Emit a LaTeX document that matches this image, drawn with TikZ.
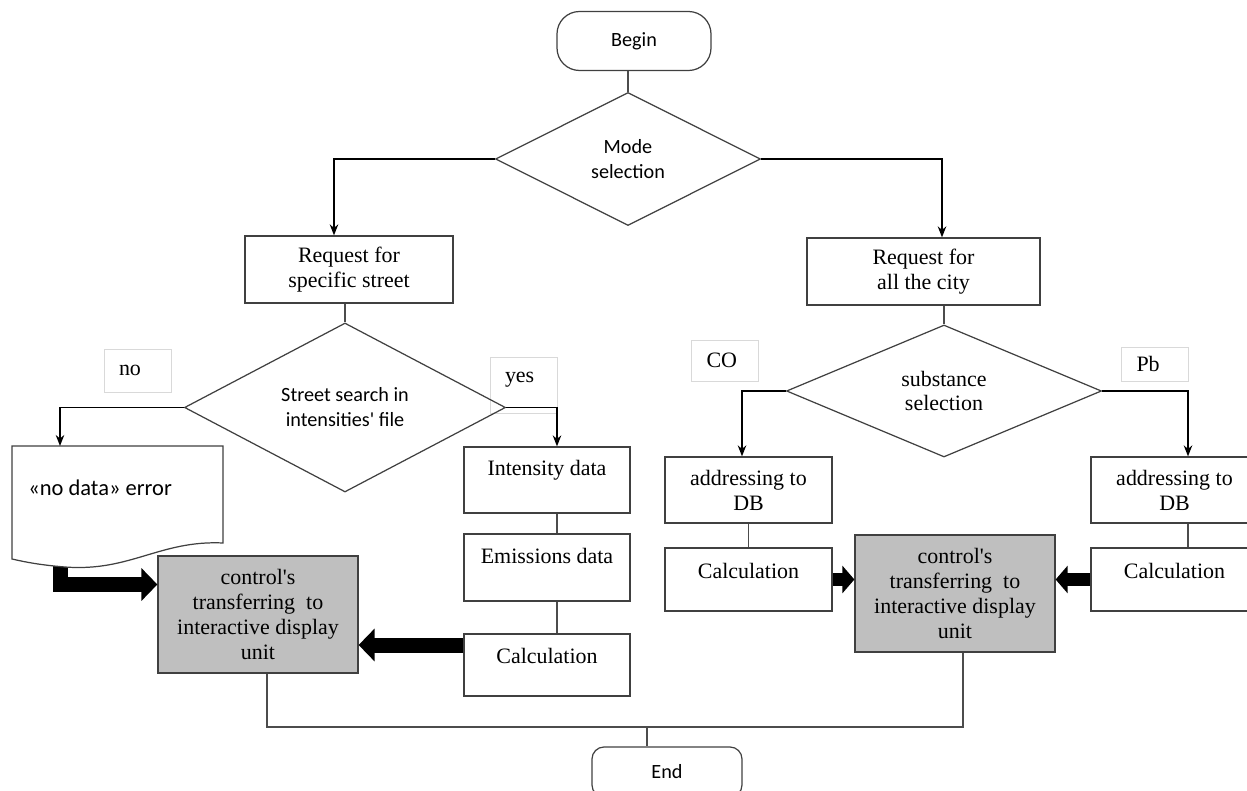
\documentclass[tikz,border=0pt]{standalone}
\usepackage{fontspec}
\setmainfont{Liberation Serif}
\newfontfamily\calfont{Carlito}
\usetikzlibrary{shapes.geometric,arrows.meta}

\begin{document}
\begin{tikzpicture}[x=0.2mm, y=-0.2mm,
  >={Stealth[length=2.2mm,width=1.7mm]},
  every node/.style={font=\fontsize{12.5}{14.2}\selectfont},
  sans/.style={font=\calfont\fontsize{11.5}{14.2}\selectfont},
  box/.style={draw=black!75, line width=0.7pt, rectangle, align=center, inner sep=0pt},
  grey/.style={box, fill=black!25},
  dec/.style={draw=black!75, line width=0.7pt, diamond, align=center, inner sep=0pt},
  lbl/.style={draw=black!15, line width=0.4pt, align=left, inner xsep=3mm, inner ysep=0pt, text width=7.4mm},
  arr/.style={->, line width=0.9pt},
  line/.style={draw=black!70, line width=0.6pt},
  fat/.style={line width=3mm, -{Triangle[width=6.4mm,length=3.2mm]}},
  fatr/.style={line width=2.6mm, -{Triangle[width=5.4mm,length=2.4mm]}}]
\useasboundingbox (0,0) rectangle (1247,791);

% start and mode choice
\node[box, sans, rounded corners=4.5mm, minimum width=30.8mm, minimum height=11.8mm] (begin) at (634,41) {Begin};
\node[dec, sans, minimum width=53mm, minimum height=26.6mm] (mode) at (628,159) {Mode\\selection};

% street branch
\node[box, minimum width=41.6mm, minimum height=13.4mm] (reqS) at (349,269.5) {Request for\\specific street};
\node[lbl, minimum height=8.6mm] (no) at (137.5,370.5) {no};
\node[lbl, text height=5.2mm, text depth=6mm] (yes) at (523.5,385) {yes};
\node[dec, sans, minimum width=64.2mm, minimum height=33.8mm] (street) at (345,407.5) {Street search in\\intensities\textquotesingle{} file};
\node[box, minimum width=33.2mm, text height=5.7mm, text depth=7.5mm] (int) at (547,480) {Intensity data};
\node[box, minimum width=33.2mm, text height=5.9mm, text depth=7.5mm] (emis) at (547,567.5) {Emissions data};
\node[box, minimum width=33.2mm, text height=5.9mm, text depth=6.5mm] (calcS) at (547,665) {Calculation};
\node[grey, minimum width=40mm, minimum height=23.4mm] (grayL) at (258,614.5) {control\textquotesingle s\\transferring\ \ to\\interactive display\\unit};

% error document
\coordinate (ndtop) at (60,446);
\draw[fat] (60.5,550) |- ([yshift=6mm]grayL.west);
\draw[draw=black!75, line width=0.7pt, fill=white] (12,446) -- (223,446) -- (223,543)
  .. controls (160,540) and (130,572) .. (65,567) .. controls (40,565) and (25,562) .. (12,559) -- cycle;
\node[font=\calfont\fontsize{12.8}{15}\selectfont, anchor=west, inner xsep=0pt] (ndtext) at (28,488) {«no data» error};

% city branch
\node[box, minimum width=46.6mm, minimum height=13.4mm] (reqC) at (923.5,271.5) {Request for\\all the city};
\node[lbl, minimum height=8.2mm] (co) at (725,360.5) {CO};
\node[lbl, minimum height=6.8mm] (pb) at (1155,364) {Pb};
\node[dec, minimum width=63mm, minimum height=26.4mm] (subst) at (944,391) {substance\\selection};
\node[box, minimum width=33.4mm, minimum height=13.2mm] (addrC) at (748.5,490) {addressing to\\DB};
\node[box, minimum width=33.4mm, minimum height=13.2mm] (addrP) at (1174.5,490) {addressing to\\DB};
\node[box, minimum width=33.4mm, text height=6.1mm, text depth=6.5mm] (calcC) at (748.5,579.5) {Calculation};
\node[box, minimum width=33.4mm, text height=6.1mm, text depth=6.5mm] (calcP) at (1174.5,579.5) {Calculation};
\node[grey, minimum width=40mm, minimum height=23.4mm] (grayR) at (955,593.5) {control\textquotesingle s\\transferring\ \ to\\interactive display\\unit};

\node[box, sans, rounded corners=2.4mm, minimum width=30mm, minimum height=10mm] (stop) at (667,772) {End};

% connectors
\draw[line] (begin.south -| mode.north) -- (mode.north);
\draw[arr] (mode.west) -| ([xshift=-3mm]reqS.north);
\draw[arr] (mode.east) -| ([xshift=3.7mm]reqC.north);
\draw[line] (street.north |- reqS.south) -- (street.north);
\draw[arr] (street.west) -| (ndtop);
\draw[arr] (street.east) -| ([xshift=2mm]int.north);
\draw[line] ([xshift=2mm]int.south) -- ([xshift=2mm]emis.north);
\draw[line] ([xshift=2mm]emis.south) -- ([xshift=2mm]calcS.north);
\draw[line] (subst.north |- reqC.south) -- (subst.north);
\draw[arr] (subst.west) -| ([xshift=-1.3mm]addrC.north);
\draw[arr] (subst.east) -| ([xshift=2.7mm]addrP.north);
\draw[line] (addrC.south) -- (calcC.north);
\draw[line] ([xshift=2.7mm]addrP.south) -- ([xshift=2.7mm]calcP.north);

% thick transfers
\draw[fat] ([yshift=4mm]calcS.west) -- ([yshift=4mm]calcS.west -| grayL.east);
\draw[fatr] (calcC.east) -- (calcC.east -| grayR.west);
\draw[fatr] (calcP.west) -- (calcP.west -| grayR.east);

% to the end
\coordinate (jn) at (647,727);
\draw[line] ([xshift=1.8mm]grayL.south) |- (jn) -| ([xshift=1.6mm]grayR.south);
\draw[line] (jn) -- (jn |- stop.north);
\end{tikzpicture}
\end{document}
